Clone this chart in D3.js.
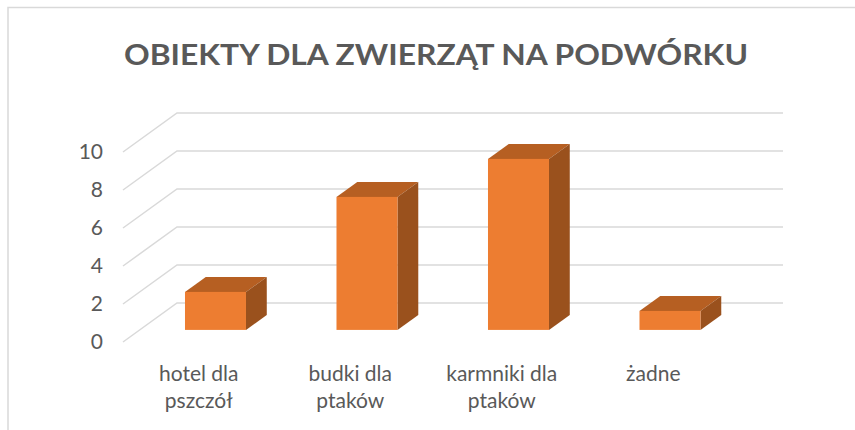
<!DOCTYPE html>
<html>
<head>
<meta charset="utf-8">
<script src="https://cdn.jsdelivr.net/npm/d3@7"></script>
<style>
  body { margin: 0; background: #fff; }
  text { font-family: Lato, "Noto Sans", sans-serif; fill: #595959; }
</style>
</head>
<body>
<svg id="chart" width="855" height="430"></svg>
<script>
const categories = [["hotel dla", "pszczół"], ["budki dla", "ptaków"], ["karmniki dla", "ptaków"], ["żadne"]];
const values = [2, 7, 9, 1];
const yTicks = [0, 2, 4, 6, 8, 10];
const title = "OBIEKTY DLA ZWIERZĄT NA PODWÓRKU";

const width = 855;
const height = 430;

// floor front-left corner and depth offset (oblique 3D)
const x0 = 123, x1 = 729, baseY = 342;
const depthX = 54, depthY = -39;

const svg = d3.select("#chart");

// chart border
svg.append("path")
  .attr("d", `M8,${height} V7.5 H${width}`)
  .attr("fill", "none")
  .attr("stroke", "#d9d9d9")
  .attr("stroke-width", 1.5);

svg.append("text")
  .attr("x", 436)
  .attr("y", 65)
  .attr("text-anchor", "middle")
  .style("font-size", "29px")
  .style("font-weight", "bold")
  .attr("textLength", 624)
  .attr("lengthAdjust", "spacingAndGlyphs")
  .text(title);

const xScale = d3.scaleBand()
  .domain(d3.range(categories.length))
  .range([x0, x1]);

const yScale = d3.scaleLinear()
  .domain([0, 10])
  .range([0, 190]);

// gridlines: diagonal on side wall, then across back wall
svg.append("g")
  .selectAll("path")
  .data(yTicks)
  .join("path")
  .attr("d", d => {
    const y = baseY - yScale(d);
    return `M${x0},${y} L${x0 + depthX},${y + depthY} H${x1 + depthX}`;
  })
  .attr("fill", "none")
  .attr("stroke", "#d9d9d9")
  .attr("stroke-width", 1.5);

// y tick labels
svg.append("g")
  .selectAll("text")
  .data(yTicks)
  .join("text")
  .attr("x", 103)
  .attr("y", d => baseY - yScale(d))
  .attr("dy", "0.35em")
  .attr("text-anchor", "end")
  .style("font-size", "21px")
  .text(d => d);

// bars
const barW = 61;
const front = 0.31, depth = 0.385;
const fdx = depthX * front, fdy = depthY * front;
const ddx = depthX * depth, ddy = depthY * depth;

const bars = svg.append("g")
  .selectAll("g")
  .data(values)
  .join("g")
  .attr("transform", (d, i) => {
    const cx = xScale(i) + xScale.bandwidth() / 2 + fdx;
    return `translate(${cx - barW / 2},${baseY + fdy})`;
  });

// top
bars.append("path")
  .attr("d", d => {
    const h = yScale(d);
    return `M0,${-h} L${ddx},${-h + ddy} H${barW + ddx} L${barW},${-h} Z`;
  })
  .attr("fill", "#b65f22");

// side
bars.append("path")
  .attr("d", d => {
    const h = yScale(d);
    return `M${barW},0 V${-h} L${barW + ddx},${-h + ddy} V${ddy} Z`;
  })
  .attr("fill", "#9a511d");

// front
bars.append("rect")
  .attr("x", 0)
  .attr("y", d => -yScale(d))
  .attr("width", barW)
  .attr("height", d => yScale(d))
  .attr("fill", "#ed7d31");

// category labels
const labels = svg.append("g")
  .selectAll("text")
  .data(categories)
  .join("text")
  .attr("text-anchor", "middle")
  .style("font-size", "21px")
  .attr("x", (d, i) => xScale(i) + xScale.bandwidth() / 2)
  .attr("y", 381);

labels.selectAll("tspan")
  .data(d => d)
  .join("tspan")
  .attr("x", function () { return d3.select(this.parentNode).attr("x"); })
  .attr("dy", (d, i) => i === 0 ? 0 : 27)
  .text(d => d);
</script>
</body>
</html>
